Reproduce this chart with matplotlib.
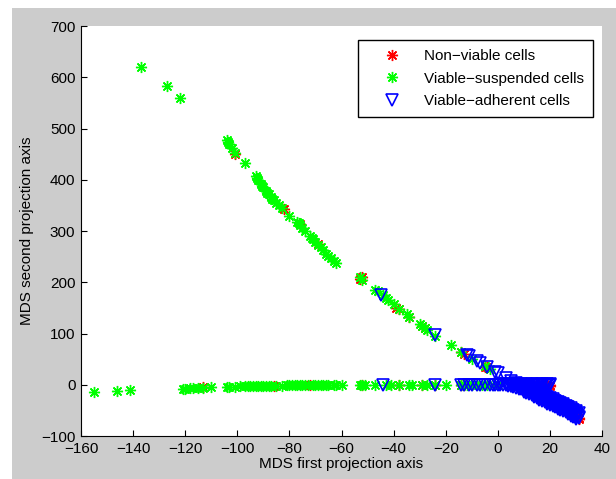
import matplotlib
matplotlib.use("Agg")
import matplotlib.pyplot as plt
from matplotlib.patches import Rectangle

plt.rcParams['font.family'] = ['Liberation Sans', 'DejaVu Sans']

# ---- MDS coordinates (first axis, second axis) ----
nonviable_x = [-101, -82, -76, -69, -53, -52, -39, -38, -34, -29, -28, -14, -13, -5, -4,
               -113, -86, -72, -52, -38, -29, -24, -14, -13,
               16, 17, 18, 19, 20, 20, 19, 18, 12, 14, 15, 31, 31, 30]
nonviable_y = [450, 342, 314, 275, 207, 210, 150, 147, 133, 114, 111, 63, 60, 35, 34,
               -5, -2, -1, 0, 0, 0, 0, 0, 0,
               0, 1, 0, -1, 0, -3, 2, -2, -10, -16, -22, -64, -66, -62]

suspended_x = [-137, -127, -122, -104, -103.5, -103, -102, -101, -97, -93, -92.5, -92, -91, -90.5,
               -90, -89, -88.5, -88, -87, -86.5, -86, -85, -84, -83, -80, -77, -76.5, -76, -75,
               -74, -72, -71.5, -71, -70, -69, -68, -67, -66, -65, -64, -63, -62,
               -53, -52, -47, -46, -44, -43, -42, -40, -38, -35, -34, -30, -29, -28, -27,
               -24, -18, -14, -10, -5, -3,
               -155, -146, -141, -121, -120, -118, -117, -115, -113, -110, -104, -103, -101,
               -99, -97, -96, -95, -94, -93, -92, -91, -90, -89, -88, -87, -85, -83, -81,
               -80, -79, -78, -77, -76, -75, -74, -73, -71, -70, -69, -68, -67, -66, -65,
               -63, -62, -60, -53, -52, -51, -47, -43, -41, -38, -34, -33, -29, -27, -24,
               -20, -14, -13, -12, -10, -8, -6, -4, -2, 0]
suspended_y = [620, 582, 560, 478, 474, 470, 462, 452, 432, 408, 404, 400, 392, 388,
               385, 378, 375, 372, 366, 362, 360, 355, 350, 345, 330, 318, 315, 312, 305,
               300, 290, 287, 284, 278, 272, 268, 262, 256, 252, 247, 242, 238,
               210, 205, 185, 182, 176, 170, 165, 158, 148, 138, 132, 118, 114, 110, 106,
               96, 78, 64, 50, 37, 30,
               -14, -12, -10, -8, -8, -7, -7, -6, -6, -5, -4, -4, -4,
               -3, -3, -3, -3, -3, -3, -2, -2, -2, -2, -2, -2, -2, -2, -1,
               -1, -1, -1, -1, -1, -1, -1, -1, -1, -1, -1, -1, -1, -1, -1,
               0, 0, 0, 0, 0, 0, 0, 0, 0, 0, 0, 0, 0, 0, 0,
               0, 0, 0, 0, 0, 0, 0, 0, 0, 0]

adherent_x = [-45, -24, -12, -11, -8, -7, -4, -1, 0, 3, 5, 7,
              -44, -24, -14, -13, -11, -10, -8, -7, -5, -3, -2, -1,
              0, 1, 2, 3, 4, 5, 6, 7, 8, 9, 10, 11, 12, 13, 14, 15, 16, 17, 18, 19, 19.5, 20,
              5, 9, 13, 17, 6, 8,
              1, 3, 5, 7, 9, 11, 13, 15, 17, 19, 20, 4, 10, 12, 14,
              6, 7, 7.5, 8, 8.5, 9, 9.5, 10, 10.5, 11, 11.5, 12, 12.5, 13, 13.5, 14, 14.5,
              15, 15.5, 16, 16.5, 17, 17.5, 18, 18.5, 19, 19.5, 20, 20.5, 21, 21.5, 22,
              22.5, 23, 23.5, 24, 24.5, 25, 25.5, 26, 26.5, 27, 27.5, 28, 28.5, 29, 29.5,
              30, 30.5, 31, 31, 30, 29, 28, 27, 26, 25, 24, 23, 22, 21, 20, 19, 18, 17,
              16, 15, 14,
              9, 10, 11, 12, 13, 14, 15, 16, 17, 18, 19, 20, 21, 22, 23, 24, 25, 26, 27,
              28, 29, 30, 31,
              10, 11, 12, 13, 14, 15, 16, 17, 18, 19, 20, 21, 22, 23, 24, 25, 26, 27, 28,
              29, 30]
adherent_y = [175, 98, 58, 56, 46, 43, 34, 25, 22, 14, 8, 3,
              0, 0, 0, 0, 0, 0, 0, 0, 0, 0, 0, 0,
              0, -1, 0, -1, 0, -2, 0, -1, 0, -2, 0, -1, 0, -1, 0, -1, 0, -1, 0, -1, 0, -1,
              1, 1, 1, 1, -3, -4,
              2, 1, -3, 2, -4, 2, -3, 2, -3, 2, 1, -3, -5, -6, -7,
              -4, -6, -3, -8, -5, -9, -6, -11, -8, -12, -9, -14, -11, -16, -13, -18, -15,
              -21, -17, -23, -20, -25, -22, -28, -24, -30, -27, -33, -29, -35, -32, -38,
              -34, -40, -37, -43, -39, -45, -42, -48, -44, -50, -47, -53, -50, -56, -53,
              -59, -57, -62, -65, -63, -60, -57, -54, -51, -48, -46, -43, -41, -38, -36,
              -34, -31, -29, -26, -24, -21,
              -3, -6, -7, -9, -10, -12, -15, -17, -19, -21, -23, -26, -28, -31, -33, -36,
              -38, -41, -43, -46, -49, -52, -56,
              -14, -16, -18, -20, -23, -26, -29, -32, -34, -37, -39, -42, -44, -47, -49,
              -52, -54, -57, -60, -62, -66]

x_ticks = list(range(-160, 41, 20))
y_ticks = list(range(-100, 701, 100))

fig = plt.figure(figsize=(6.16, 4.79), dpi=100, facecolor='white')
fig.patches.append(Rectangle((12 / 616, 0), 1, 1 - 8 / 479, transform=fig.transFigure,
                             facecolor='#cccccc', edgecolor='none', zorder=-5))

W, H = 616, 479
ax = fig.add_axes([81 / W, 1 - 436 / H, (602 - 81) / W, (436 - 26) / H])
ax.set_facecolor('white')

ast = (8, 2, 0)
ax.plot(nonviable_x, nonviable_y, linestyle='none', marker=ast, markersize=8,
        markeredgecolor='#ff0000', markeredgewidth=1.0, label='Non\u2212viable cells')
ax.plot(suspended_x, suspended_y, linestyle='none', marker=ast, markersize=8,
        markeredgecolor='#00ff00', markeredgewidth=1.0, label='Viable\u2212suspended cells')
ax.plot(adherent_x, adherent_y, linestyle='none', marker='v', markersize=8.5,
        markerfacecolor='none', markeredgecolor='#0000ff', markeredgewidth=1.2,
        label='Viable\u2212adherent cells')

ax.set_xlim(-160, 40)
ax.set_ylim(-100, 700)
ax.set_xticks(x_ticks)
ax.set_yticks(y_ticks)
ax.set_xticklabels([str(v).replace('-', '\u2212') for v in x_ticks])
ax.set_yticklabels([str(v).replace('-', '\u2212') for v in y_ticks])
ax.tick_params(direction='in', length=4, width=0.8, labelsize=11, pad=4,
               top=False, right=False)
for s in ['top', 'right']:
    ax.spines[s].set_visible(False)
for s in ['left', 'bottom']:
    ax.spines[s].set_linewidth(0.8)

ax.set_xlabel('MDS first projection axis', fontsize=11, labelpad=1)
ax.set_ylabel('MDS second projection axis', fontsize=11, labelpad=5)

leg = ax.legend(loc='upper right', bbox_to_anchor=(0.983, 0.966), borderaxespad=0,
                fontsize=11, frameon=True, fancybox=False, edgecolor='black',
                framealpha=1, handlelength=3.2, handletextpad=0.5, labelspacing=0.56,
                borderpad=0.6, numpoints=1)
leg.get_frame().set_linewidth(1.0)

fig.savefig('out.png', dpi=100, facecolor=fig.get_facecolor())
